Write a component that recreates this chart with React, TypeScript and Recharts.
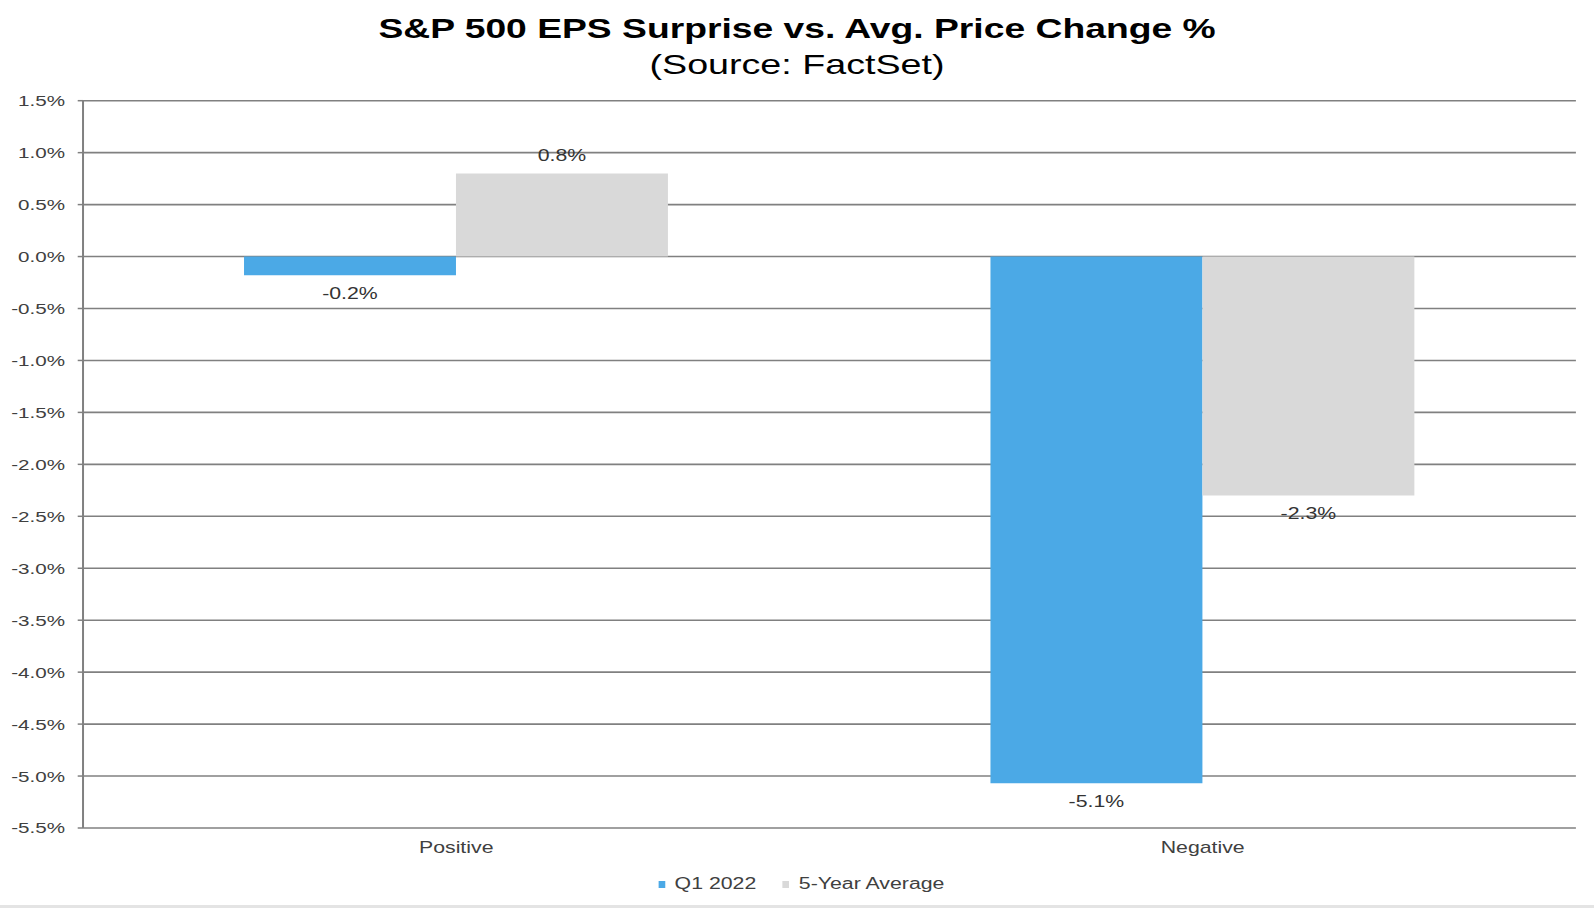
import { Bar, BarChart, CartesianGrid, LabelList, XAxis, YAxis } from 'recharts'

const categories = ['Positive', 'Negative']
const q1Values = [-0.18, -5.07]
const avgValues = [0.8, -2.3]
const seriesNames = ['Q1 2022', '5-Year Average']
const seriesColors = ['#4BA9E6', '#D9D9D9']
const yTicks = [1.5, 1.0, 0.5, 0.0, -0.5, -1.0, -1.5, -2.0, -2.5, -3.0, -3.5, -4.0, -4.5, -5.0, -5.5]

// the source picture is stretched sideways, so the whole chart is drawn narrow and scaled out
const STRETCH = 1594 / 1198
const W = 1198
const H = 908
const FONT = '"Liberation Sans", Arial, sans-serif'

const data = categories.map((name, i) => ({ name, q1: q1Values[i], avg: avgValues[i] }))

const pct = (v: number) => `${v.toFixed(1)}%`

function ValueLabel(props: any) {
  const { x, y, width, height, value } = props
  const top = Math.min(Number(y), Number(y) + Number(height))
  const bottom = Math.max(Number(y), Number(y) + Number(height))
  const ty = value >= 0 ? top - 18 : bottom + 18
  return (
    <text
      x={Number(x) + Number(width) / 2}
      y={ty}
      textAnchor="middle"
      dominantBaseline="central"
      fontSize={16}
      fontFamily={FONT}
      fill="#333"
    >
      {pct(Number(value))}
    </text>
  )
}

export default function App() {
  return (
    <div
      style={{
        position: 'absolute',
        left: 0,
        top: 0,
        width: 1594,
        height: H,
        background: '#fff',
        overflow: 'hidden',
        fontFamily: FONT,
      }}
    >
      <div
        style={{
          position: 'absolute',
          left: 0,
          top: 0,
          width: W,
          height: H,
          transform: `scaleX(${STRETCH})`,
          transformOrigin: 'left top',
        }}
      >
        <div
          style={{
            position: 'absolute',
            top: 14.5,
            width: W,
            textAlign: 'center',
            fontSize: 28,
            fontWeight: 'bold',
            lineHeight: 1,
            color: '#000',
          }}
        >
          S&amp;P 500 EPS Surprise vs. Avg. Price Change %
        </div>
        <div
          style={{
            position: 'absolute',
            top: 50,
            width: W,
            textAlign: 'center',
            fontSize: 28.3,
            lineHeight: 1,
            color: '#000',
          }}
        >
          (Source: FactSet)
        </div>

        <BarChart
          width={W}
          height={H}
          data={data}
          margin={{ top: 100.7, right: 13.6, bottom: 40, left: 0 }}
          barGap={0}
          barSize={159.3}
        >
          <CartesianGrid vertical={false} stroke="#808080" strokeWidth={1.6} />
          <XAxis
            dataKey="name"
            height={40}
            axisLine={false}
            tickLine={false}
            tickSize={6}
            tickMargin={8}
            tick={{ fontSize: 16, fill: '#404040', fontFamily: FONT }}
          />
          <YAxis
            type="number"
            domain={[-5.5, 1.5]}
            ticks={yTicks}
            interval={0}
            width={62.4}
            axisLine={{ stroke: '#808080', strokeWidth: 1.5 }}
            tickLine={{ stroke: '#808080', strokeWidth: 1.5 }}
            tickSize={4}
            tickMargin={9.5}
            tickFormatter={pct}
            tick={{ fontSize: 15.5, fill: '#404040', fontFamily: FONT }}
          />
          <Bar dataKey="q1" name={seriesNames[0]} fill={seriesColors[0]} isAnimationActive={false}>
            <LabelList dataKey="q1" content={ValueLabel} />
          </Bar>
          <Bar dataKey="avg" name={seriesNames[1]} fill={seriesColors[1]} isAnimationActive={false}>
            <LabelList dataKey="avg" content={ValueLabel} />
          </Bar>
        </BarChart>

        <div
          style={{
            position: 'absolute',
            left: 495,
            top: 875,
            display: 'flex',
            alignItems: 'center',
            fontSize: 16,
            lineHeight: '18px',
            color: '#404040',
          }}
        >
          {seriesNames.map((name, i) => (
            <div key={name} style={{ display: 'flex', alignItems: 'center', marginRight: i === 0 ? 20 : 0 }}>
              <span
                style={{
                  display: 'inline-block',
                  width: 5,
                  height: 7,
                  marginTop: 1,
                  marginRight: 7,
                  background: seriesColors[i],
                }}
              />
              <span>{name}</span>
            </div>
          ))}
        </div>
      </div>
      <div style={{ position: 'absolute', left: 0, bottom: 0, width: 1594, height: 3, background: '#e4e4e4' }} />
    </div>
  )
}
